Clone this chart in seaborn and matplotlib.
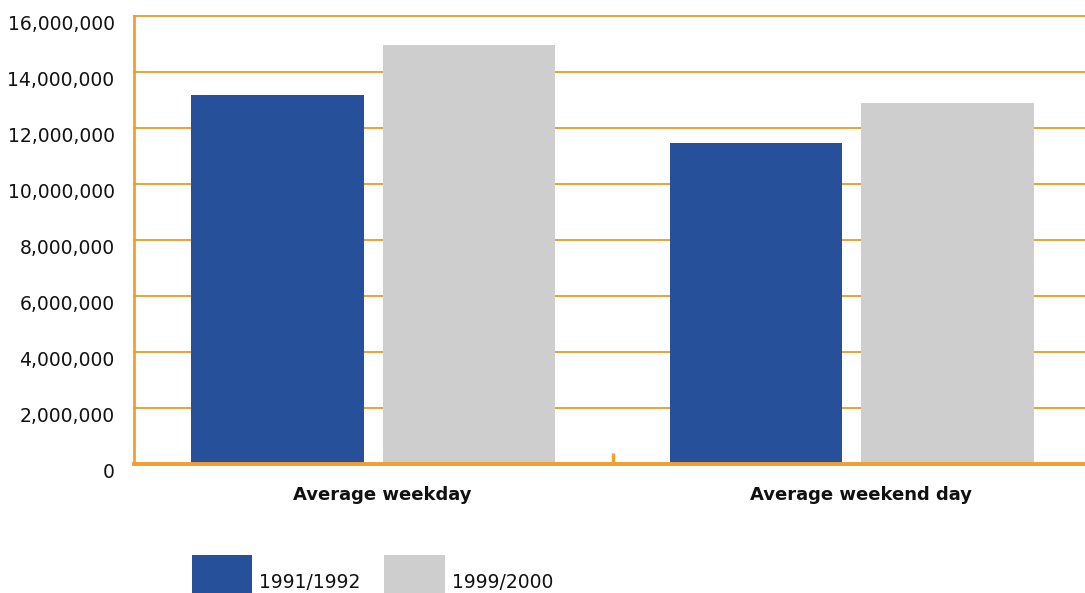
import matplotlib
matplotlib.use("Agg")
import matplotlib.pyplot as plt
from matplotlib.patches import Patch
from matplotlib.ticker import FuncFormatter, FixedLocator
from matplotlib.transforms import ScaledTranslation
import pandas as pd
import seaborn as sns

# Average daily trips
categories = ["Average weekday", "Average weekend day"]
periods = ["1991/1992", "1999/2000"]
trips_1991 = [13180000, 11460000]
trips_1999 = [14960000, 12890000]
y_ticks = [0, 2000000, 4000000, 6000000, 8000000, 10000000, 12000000, 14000000, 16000000]

ORANGE = "#F0A030"
colors = {"1991/1992": "#26509A", "1999/2000": "#CECECE"}

df = pd.DataFrame({
    "category": categories * 2,
    "period": [periods[0]] * 2 + [periods[1]] * 2,
    "trips": trips_1991 + trips_1999,
})

sns.set_style("white")
plt.rcParams["font.family"] = ["DejaVu Sans"]

fig = plt.figure(figsize=(10.85, 5.93), dpi=100)
ax = fig.add_axes([134 / 1085, 1 - 464 / 593, 957 / 1085, 448 / 593])

sns.barplot(data=df, x="category", y="trips", hue="period", order=categories,
            hue_order=periods, palette=colors, width=0.8, gap=0.1,
            saturation=1, linewidth=0, legend=False, ax=ax, zorder=3)

ax.set_xlim(-0.5, 1.5)
ax.set_ylim(0, 16000000)
ax.set_yticks(y_ticks)
ax.yaxis.set_major_formatter(FuncFormatter(lambda v, p: f"{int(v):,}"))
ax.set_xlabel("")
ax.set_ylabel("")

ax.grid(axis="y", color=ORANGE, linewidth=1.4, zorder=0)
ax.set_axisbelow(True)
for gl in ax.get_ygridlines():
    gl.set_clip_on(False)

for s in ["top", "right"]:
    ax.spines[s].set_visible(False)
ax.spines["left"].set_color(ORANGE)
ax.spines["left"].set_linewidth(2.0)
ax.spines["bottom"].set_color(ORANGE)
ax.spines["bottom"].set_linewidth(2.8)
ax.spines["bottom"].set_zorder(5)

ax.tick_params(axis="y", length=0, pad=14, labelsize=13.5, labelcolor="#111111")
# nudge the value labels slightly below their gridlines
yshift = ScaledTranslation(0, -6 / 100, fig.dpi_scale_trans)
for lbl in ax.get_yticklabels():
    lbl.set_transform(lbl.get_transform() + yshift)

ax.tick_params(axis="x", which="major", length=0, pad=16, labelsize=13,
               labelcolor="#111111")
xshift = ScaledTranslation(9 / 100, 0, fig.dpi_scale_trans)
for lbl in ax.get_xticklabels():
    lbl.set_fontweight("bold")
    lbl.set_transform(lbl.get_transform() + xshift)
ax.xaxis.set_minor_locator(FixedLocator([0.5]))
ax.tick_params(axis="x", which="minor", bottom=True, direction="in",
               length=8, width=2.5, color=ORANGE)

handles = [Patch(facecolor=colors[p], edgecolor="none", label=p) for p in periods]
fig.legend(handles=handles, loc="lower left", ncol=2, frameon=False,
           bbox_to_anchor=(184 / 1085, -0.042), fontsize=13.5,
           handlelength=3.25, handleheight=4.16, handletextpad=0.35,
           columnspacing=1.27, borderaxespad=0, borderpad=0.4,
           labelcolor="#111111")

fig.savefig("out.png", dpi=100)
